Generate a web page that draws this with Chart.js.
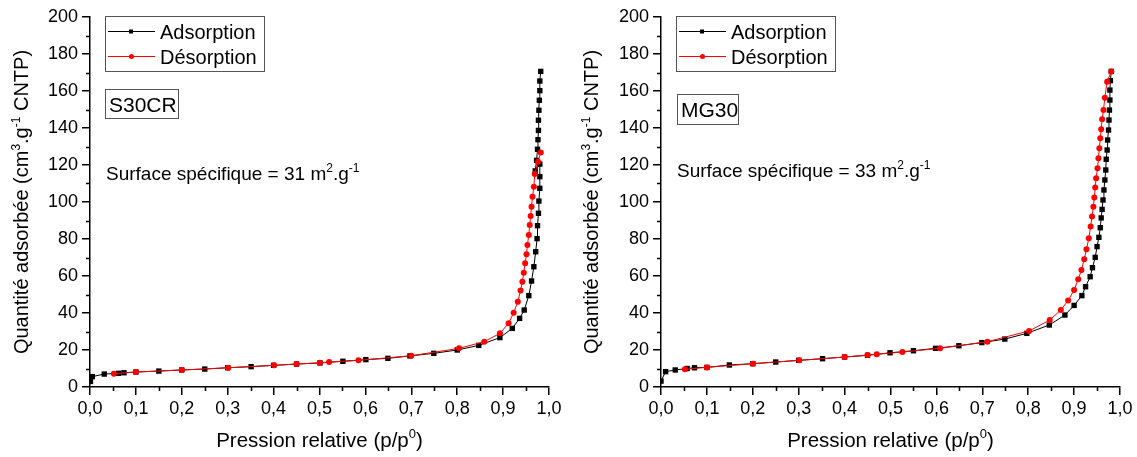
<!DOCTYPE html>
<html>
<head>
<meta charset="utf-8">
<script src="https://cdn.jsdelivr.net/npm/chart.js@4.4.1/dist/chart.umd.min.js"></script>
<style>
  body { margin: 0; background: #fff; }
  canvas { position: absolute; top: 0; }
  #g { left: 0; }
  #d { left: 570px; }
</style>
</head>
<body>
<canvas id="g" width="570" height="457"></canvas>
<canvas id="d" width="567" height="457"></canvas>
<script>
// ---- data (p/p0 , cm3/g STP) ----
const s30AdsP = [0.001, 0.005, 0.031, 0.062, 0.074, 0.100, 0.150, 0.200, 0.250, 0.300, 0.351, 0.400, 0.450, 0.501, 0.551, 0.601, 0.649, 0.697, 0.749, 0.800, 0.847, 0.893, 0.920, 0.936, 0.946, 0.956, 0.962, 0.967, 0.971, 0.974, 0.975, 0.977, 0.978, 0.980, 0.980, 0.980, 0.970, 0.973, 0.975, 0.976, 0.977, 0.977, 0.978, 0.979, 0.980, 0.980, 0.982];
const s30AdsV = [3.0, 5.6, 7.0, 7.4, 7.7, 8.1, 8.6, 9.2, 9.7, 10.4, 11.0, 11.7, 12.4, 13.0, 13.9, 14.8, 15.5, 16.8, 18.2, 20.0, 22.5, 26.7, 31.7, 37.1, 41.6, 49.4, 57.3, 65.0, 73.1, 80.2, 87.2, 93.9, 100.5, 107.4, 113.7, 120.5, 116.8, 122.5, 128.5, 133.7, 138.7, 144.2, 149.6, 155.0, 160.2, 165.4, 170.6];
const s30DesP = [0.982, 0.976, 0.969, 0.967, 0.964, 0.962, 0.960, 0.958, 0.956, 0.953, 0.951, 0.948, 0.945, 0.942, 0.938, 0.932, 0.923, 0.912, 0.893, 0.859, 0.804, 0.700, 0.585, 0.521, 0.501, 0.450, 0.401, 0.301, 0.200, 0.100, 0.052];
const s30DesV = [126.8, 121.8, 115.1, 108.3, 102.9, 97.5, 92.4, 87.6, 82.2, 76.8, 71.7, 66.9, 61.8, 56.9, 52.1, 46.1, 40.2, 34.4, 29.0, 24.5, 20.9, 16.9, 14.4, 13.5, 13.1, 12.4, 11.7, 10.4, 9.2, 8.1, 7.2];

const mg30AdsP = [0.000, 0.010, 0.031, 0.057, 0.073, 0.100, 0.149, 0.200, 0.250, 0.300, 0.352, 0.400, 0.450, 0.499, 0.550, 0.598, 0.649, 0.699, 0.749, 0.797, 0.846, 0.880, 0.900, 0.917, 0.925, 0.935, 0.940, 0.946, 0.950, 0.954, 0.957, 0.959, 0.961, 0.963, 0.965, 0.967, 0.969, 0.970, 0.972, 0.973, 0.975, 0.976, 0.977, 0.978, 0.978, 0.979, 0.981];
const mg30AdsV = [3.2, 8.3, 9.2, 10.0, 10.4, 10.6, 11.9, 12.6, 13.5, 14.4, 15.3, 16.2, 17.1, 18.5, 19.6, 20.9, 22.3, 24.0, 25.9, 29.0, 33.5, 38.9, 44.1, 49.4, 54.2, 59.6, 64.5, 70.1, 75.9, 80.9, 86.1, 91.4, 96.0, 101.1, 106.5, 111.9, 117.3, 123.1, 128.1, 133.5, 138.9, 144.3, 149.7, 155.1, 160.5, 165.6, 170.6];
const mg30DesP = [0.981, 0.972, 0.967, 0.964, 0.961, 0.959, 0.957, 0.955, 0.953, 0.951, 0.948, 0.946, 0.944, 0.942, 0.939, 0.936, 0.932, 0.927, 0.922, 0.916, 0.909, 0.900, 0.887, 0.871, 0.847, 0.802, 0.711, 0.608, 0.526, 0.470, 0.450, 0.400, 0.301, 0.200, 0.100, 0.052];
const mg30DesV = [170.6, 165.0, 156.4, 149.7, 144.7, 139.3, 134.4, 129.0, 123.6, 118.2, 112.8, 107.9, 102.5, 97.5, 92.1, 86.7, 80.4, 74.4, 69.0, 63.2, 58.2, 52.4, 46.7, 41.6, 36.2, 30.3, 24.5, 20.9, 18.9, 17.7, 17.3, 16.2, 14.4, 12.6, 10.6, 9.6];

const seriesNames = ['Adsorption', 'Désorption'];
const yMinor = [10, 30, 50, 70, 90, 110, 130, 150, 170, 190];
const xMinor = [0.05, 0.15, 0.25, 0.35, 0.45, 0.55, 0.65, 0.75, 0.85, 0.95];

const FONT = '"Liberation Sans", Arial, sans-serif';

function pts(p, v) { return p.map((x, i) => ({ x: x, y: v[i] })); }

// text with superscripts: parts = [[text, isSup], ...], y = baseline
function drawRich(ctx, parts, x, y, size, align) {
  const supSize = Math.round(size * 0.62);
  let w = 0;
  for (const [t, sup] of parts) {
    ctx.font = (sup ? supSize : size) + 'px ' + FONT;
    w += ctx.measureText(t).width;
  }
  let cx = align === 'center' ? x - w / 2 : x;
  ctx.textAlign = 'left';
  ctx.textBaseline = 'alphabetic';
  for (const [t, sup] of parts) {
    ctx.font = (sup ? supSize : size) + 'px ' + FONT;
    ctx.fillText(t, cx, sup ? y - size * 0.42 : y);
    cx += ctx.measureText(t).width;
  }
}

const extras = {
  id: 'extras',
  afterDraw(chart, args, o) {
    const ctx = chart.ctx, a = chart.chartArea;
    const xs = chart.scales.x, ys = chart.scales.y;
    ctx.save();
    ctx.fillStyle = '#000';
    ctx.strokeStyle = '#000';
    ctx.lineWidth = 1.5;
    // minor ticks
    ctx.beginPath();
    for (const v of yMinor) {
      const py = Math.round(ys.getPixelForValue(v)) + 0.5;
      ctx.moveTo(a.left - 4, py); ctx.lineTo(a.left, py);
    }
    for (const v of xMinor) {
      const px = Math.round(xs.getPixelForValue(v)) + 0.5;
      ctx.moveTo(px, a.bottom); ctx.lineTo(px, a.bottom + 4);
    }
    ctx.stroke();

    // axis titles
    drawRich(ctx, [['Pression relative (p/p', 0], ['0', 1], [')', 0]], (a.left + a.right) / 2, 447, 20.5, 'center');
    ctx.save();
    ctx.translate(o.yTitleX, (a.top + a.bottom) / 2);
    ctx.rotate(-Math.PI / 2);
    drawRich(ctx, [['Quantité adsorbée (cm', 0], ['3', 1], ['.g', 0], ['-1', 1], [' CNTP)', 0]], 0, 0, 20, 'center');
    ctx.restore();

    // legend
    const L = o.legend;
    ctx.strokeStyle = '#555';
    ctx.lineWidth = 1;
    ctx.strokeRect(L[0] + 0.5, L[1] + 0.5, L[2], L[3]);
    chart.data.datasets.slice().sort((p, q) => p.legendRow - q.legendRow).forEach((ds, i) => {
      const cy = L[1] + 15.5 + i * 25;
      ctx.strokeStyle = ds.borderColor;
      ctx.lineWidth = 1;
      ctx.beginPath(); ctx.moveTo(L[0] + 3, cy); ctx.lineTo(L[0] + 50, cy); ctx.stroke();
      ctx.fillStyle = ds.pointBackgroundColor;
      if (ds.pointStyle === 'rect') ctx.fillRect(L[0] + 24, cy - 2, 4, 4);
      else { ctx.beginPath(); ctx.arc(L[0] + 26.5, cy, 2.5, 0, Math.PI * 2); ctx.fill(); }
      ctx.fillStyle = '#000';
      ctx.font = '20px ' + FONT;
      ctx.textAlign = 'left'; ctx.textBaseline = 'alphabetic';
      ctx.fillText(ds.label, L[0] + 55, cy + 7);
    });

    // sample tag
    const B = o.tag;
    ctx.strokeStyle = '#555';
    ctx.strokeRect(B[0] + 0.5, B[1] + 0.5, B[2], B[3]);
    ctx.fillStyle = '#000';
    ctx.font = '21px ' + FONT;
    ctx.fillText(o.name, B[0] + 4, B[1] + 23);

    // specific surface
    drawRich(ctx, [['Surface spécifique = ' + o.surface + ' m', 0], ['2', 1], ['.g', 0], ['-1', 1]], o.surfPos[0], o.surfPos[1], 19, 'left');
    ctx.restore();
  }
};

function makeChart(id, adsP, adsV, desP, desV, extra, yWidth, padRight) {
  return new Chart(document.getElementById(id), {
    type: 'line',
    data: {
      datasets: [
        {
          label: seriesNames[0], legendRow: 0, order: 1,
          data: pts(adsP, adsV),
          borderColor: '#000', backgroundColor: '#000', pointBackgroundColor: '#000', pointBorderColor: '#000',
          borderWidth: 1, pointStyle: 'rect', pointRadius: 3.8, pointBorderWidth: 0, tension: 0
        },
        {
          label: seriesNames[1], legendRow: 1, order: 0,
          data: pts(desP, desV),
          borderColor: '#ff0000', backgroundColor: '#ff0000', pointBackgroundColor: '#ff0000', pointBorderColor: '#ff0000',
          borderWidth: 1, pointStyle: 'circle', pointRadius: 3, pointBorderWidth: 0, tension: 0
        }
      ]
    },
    options: {
      responsive: false,
      animation: false,
      layout: { padding: { left: 0, top: 17, right: padRight, bottom: 0 } },
      plugins: { legend: { display: false }, tooltip: { enabled: false }, extras: extra },
      scales: {
        x: {
          type: 'linear', min: 0, max: 1,
          border: { display: true, color: '#000', width: 1.5 },
          grid: { drawOnChartArea: false, drawTicks: true, tickLength: 8, color: '#000', lineWidth: 1.5 },
          ticks: {
            stepSize: 0.1, color: '#000', padding: 3, maxRotation: 0, autoSkip: false,
            font: { family: FONT, size: 18 },
            callback: v => v.toFixed(1).replace('.', ',')
          },
          afterFit: s => { s.height = 70; }
        },
        y: {
          min: 0, max: 200,
          border: { display: true, color: '#000', width: 1.5 },
          grid: { drawOnChartArea: false, drawTicks: true, tickLength: 8, color: '#000', lineWidth: 1.5 },
          ticks: { stepSize: 20, color: '#000', padding: 4, font: { family: FONT, size: 18 } },
          afterFit: s => { s.width = yWidth; }
        }
      }
    },
    plugins: [extras]
  });
}

makeChart('g', s30AdsP, s30AdsV, s30DesP, s30DesV,
  { legend: [105, 16, 159, 55], tag: [105, 89, 73, 29], name: 'S30CR', surface: '31', surfPos: [106, 180], yTitleX: 28 },
  90, 21);
makeChart('d', mg30AdsP, mg30AdsV, mg30DesP, mg30DesV,
  { legend: [106, 16, 159, 55], tag: [107, 94, 61, 30], name: 'MG30', surface: '33', surfPos: [107, 177], yTitleX: 28 },
  91, 17);
</script>
</body>
</html>
